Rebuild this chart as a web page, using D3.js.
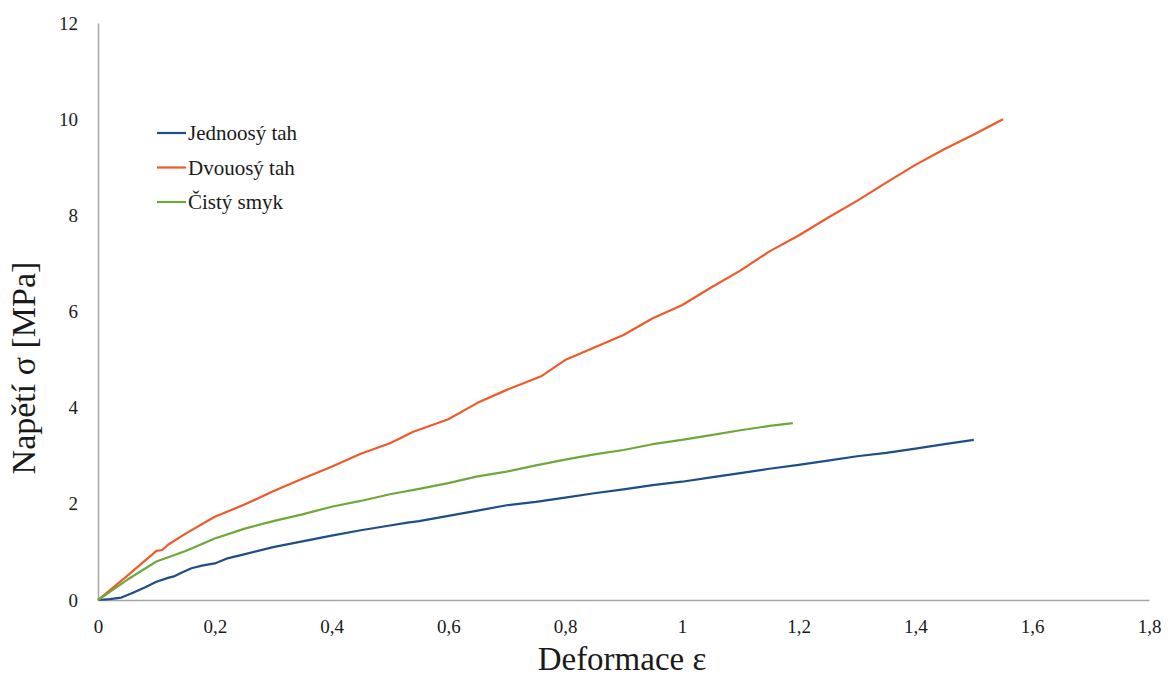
<!DOCTYPE html>
<html>
<head>
<meta charset="utf-8">
<script src="https://cdn.jsdelivr.net/npm/d3@7"></script>
<style>
  body { margin: 0; background: #fff; }
  svg text { font-family: "Liberation Serif", "Times New Roman", serif; fill: #1a1a1a; }
</style>
</head>
<body>
<div id="chart"></div>
<script>
// Data (strain ε, stress σ in MPa)
const uniStrain = [0, 0.02, 0.04, 0.06, 0.08, 0.1, 0.12, 0.13, 0.14, 0.16, 0.18, 0.2, 0.22, 0.25, 0.3, 0.35, 0.4, 0.45, 0.5, 0.53, 0.55, 0.6, 0.65, 0.7, 0.75, 0.8, 0.85, 0.9, 0.95, 1.0, 1.05, 1.1, 1.15, 1.2, 1.25, 1.3, 1.35, 1.4, 1.45, 1.5];
const uniStress = [0, 0.02, 0.05, 0.15, 0.26, 0.38, 0.46, 0.49, 0.55, 0.66, 0.72, 0.76, 0.86, 0.95, 1.10, 1.22, 1.34, 1.45, 1.55, 1.61, 1.64, 1.75, 1.86, 1.97, 2.04, 2.13, 2.22, 2.30, 2.39, 2.46, 2.55, 2.64, 2.73, 2.81, 2.90, 2.99, 3.06, 3.15, 3.24, 3.33];

const biStrain = [0, 0.05, 0.1, 0.11, 0.12, 0.15, 0.2, 0.25, 0.3, 0.35, 0.4, 0.45, 0.5, 0.54, 0.6, 0.65, 0.7, 0.76, 0.8, 0.85, 0.9, 0.95, 1.0, 1.05, 1.1, 1.15, 1.2, 1.25, 1.3, 1.35, 1.4, 1.45, 1.5, 1.55];
const biStress = [0, 0.5, 1.02, 1.04, 1.15, 1.38, 1.73, 1.98, 2.26, 2.52, 2.77, 3.04, 3.26, 3.5, 3.76, 4.1, 4.37, 4.66, 4.99, 5.25, 5.51, 5.86, 6.13, 6.5, 6.85, 7.25, 7.58, 7.95, 8.3, 8.68, 9.05, 9.38, 9.68, 10.0];

const shearStrain = [0, 0.05, 0.1, 0.15, 0.2, 0.25, 0.3, 0.35, 0.4, 0.45, 0.5, 0.55, 0.6, 0.65, 0.7, 0.75, 0.8, 0.85, 0.9, 0.95, 1.0, 1.05, 1.1, 1.15, 1.19];
const shearStress = [0, 0.42, 0.8, 1.02, 1.28, 1.48, 1.64, 1.78, 1.94, 2.06, 2.2, 2.31, 2.43, 2.57, 2.67, 2.80, 2.92, 3.03, 3.12, 3.24, 3.33, 3.43, 3.53, 3.62, 3.68];

const xTicks = [0, 0.2, 0.4, 0.6, 0.8, 1, 1.2, 1.4, 1.6, 1.8];
const yTicks = [0, 2, 4, 6, 8, 10, 12];

const series = [
  { name: "Jednoosý tah", color: "#1f4e86", x: uniStrain, y: uniStress },
  { name: "Dvouosý tah", color: "#ee5a2a", x: biStrain, y: biStress },
  { name: "Čistý smyk", color: "#6fa83a", x: shearStrain, y: shearStress }
];

// Dimensions
const width = 1175, height = 680;
const margin = { top: 23, right: 25, bottom: 80, left: 98 };
const innerW = 1149 - margin.left;
const innerH = 600 - margin.top;

const x = d3.scaleLinear().domain([0, 1.8]).range([0, innerW]);
const y = d3.scaleLinear().domain([0, 12]).range([innerH, 0]);

const fmt = (d) => String(d).replace(".", ",");

const svg = d3.select("#chart").append("svg")
  .attr("width", width)
  .attr("height", height);

const g = svg.append("g").attr("transform", `translate(${margin.left},${margin.top})`);

// Axes (no tick marks, grey domain lines)
g.append("g")
  .attr("transform", `translate(0,${innerH})`)
  .call(d3.axisBottom(x).tickValues(xTicks).tickFormat(fmt).tickSize(0).tickPadding(20))
  .call((a) => a.select(".domain").attr("stroke", "#a6a6a6").attr("stroke-width", 1.5))
  .selectAll("text")
  .style("font-size", "19px");

g.append("g")
  .call(d3.axisLeft(y).tickValues(yTicks).tickFormat(fmt).tickSize(0).tickPadding(20))
  .call((a) => a.select(".domain").attr("stroke", "#a6a6a6").attr("stroke-width", 1.5))
  .selectAll("text")
  .style("font-size", "19px");

// Lines
const line = d3.line()
  .x((d) => x(d[0]))
  .y((d) => y(d[1]));

series.forEach((s) => {
  g.append("path")
    .datum(s.x.map((v, i) => [v, s.y[i]]))
    .attr("fill", "none")
    .attr("stroke", s.color)
    .attr("stroke-width", 2.2)
    .attr("stroke-linejoin", "round")
    .attr("d", line);
});

// Legend
const legend = svg.append("g").attr("transform", "translate(157,133)");
series.forEach((s, i) => {
  const row = legend.append("g").attr("transform", `translate(0,${i * 34.5})`);
  row.append("line")
    .attr("x1", 0).attr("x2", 29)
    .attr("y1", 0).attr("y2", 0)
    .attr("stroke", s.color)
    .attr("stroke-width", 2.2);
  row.append("text")
    .attr("x", 31)
    .attr("dy", "0.35em")
    .style("font-size", "21px")
    .text(s.name);
});

// Axis titles
svg.append("text")
  .attr("x", 622)
  .attr("y", 670)
  .attr("text-anchor", "middle")
  .style("font-size", "33px")
  .text("Deformace ε");

svg.append("text")
  .attr("transform", "translate(35,368) rotate(-90)")
  .attr("text-anchor", "middle")
  .style("font-size", "34px")
  .text("Napětí σ [MPa]");
</script>
</body>
</html>
